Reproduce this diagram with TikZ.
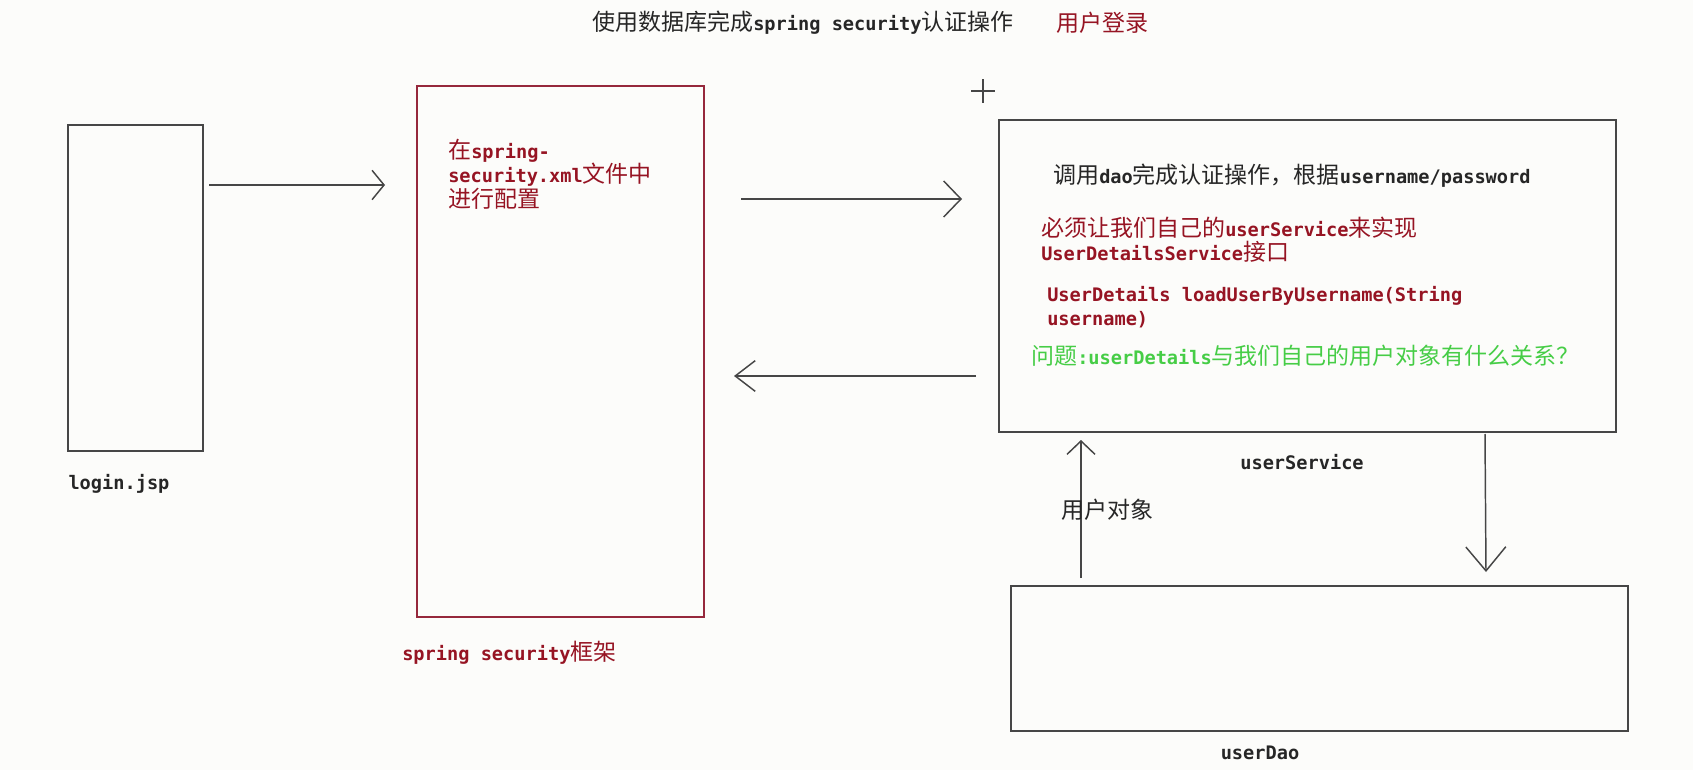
\documentclass[tikz,border=0pt]{standalone}
\usepackage{fontspec}
\setmainfont{Noto Sans CJK SC}
\newfontfamily\cjk{Noto Sans CJK SC}
\newfontfamily\mono{DejaVu Sans Mono}[Scale=0.81,UprightFont=* Bold]
\newcommand\mn[1]{{\mono #1}}
\usetikzlibrary{arrows.meta}
\definecolor{lineg}{RGB}{70,70,70}
\definecolor{dred}{RGB}{150,20,35}
\definecolor{bred}{RGB}{150,40,60}
\definecolor{qgreen}{RGB}{70,205,70}
\definecolor{bgc}{RGB}{252,252,250}
\begin{document}
\begin{tikzpicture}[x=0.75pt,y=-0.75pt,
  box/.style={draw=lineg, line width=1.2pt},
  rbox/.style={draw=bred, line width=1.2pt},
  txt/.style={inner sep=0pt, anchor=west, font=\cjk\fontsize{17.25}{20}\selectfont, text=black!85},
  lbl/.style={txt, anchor=center},
  rtxt/.style={txt, text=dred},
  gtxt/.style={txt, text=qgreen},
  arr/.style={draw=lineg, line width=1.1pt, -{Straight Barb[length=#1]}},
  arr/.default={10pt,width=24pt}
]
\fill[bgc] (0,0) rectangle (1693,770);
\useasboundingbox (0,0) rectangle (1693,770);

% title
\node[txt] (title) at (592,23) {使用数据库完成\mn{spring security}认证操作};
\node[rtxt] (title2) at (1056,23) {用户登录};

% boxes
\draw[box] (68,125) rectangle (203,451);
\coordinate (login) at (135,288);
\node[lbl] (loginl) at (119,484) {\mn{login.jsp}};

\draw[rbox] (417,86) rectangle (704,617);
\node[rtxt] (cfg1) at (448,151) {在\mn{spring-}};
\node[rtxt] (cfg2) at (448,175) {\mn{security.xml}文件中};
\node[rtxt] (cfg3) at (448,199) {进行配置};
\node[rtxt] (secl) at (402,653) {\mn{spring security}框架};

\draw[box] (999,120) rectangle (1616,432);
\node[txt] (s1) at (1053,176) {调用\mn{dao}完成认证操作，根据\mn{username/password}};
\node[rtxt] (s2) at (1041,228) {必须让我们自己的\mn{userService}来实现};
\node[rtxt] (s3) at (1041,252) {\mn{UserDetailsService}接口};
\node[rtxt] (s4) at (1047,296) {\mn{UserDetails loadUserByUsername(String}};
\node[rtxt] (s5) at (1047,320) {\mn{username)}};
\node[gtxt] (s6) at (1031,356) {问题\mn{:userDetails}与我们自己的用户对象有什么关系？};
\node[lbl] (servl) at (1302,462) {\mn{userService}};

\draw[box] (1011,586) rectangle (1628,731);
\node[lbl] (daol) at (1260,753) {\mn{userDao}};

% connectors
\coordinate (a1s) at (209,185);
\coordinate (a1e) at (385,185);
\coordinate (a2s) at (741,199);
\coordinate (a2e) at (962,199);
\coordinate (a3s) at (976,376);
\coordinate (a3e) at (734,376);
\coordinate (a4s) at (1485,434);
\coordinate (a4e) at (1486,572);
\coordinate (a5s) at (1081,578);
\coordinate (a5e) at (1081,440);
\draw[arr={9pt,width=22pt}] (a1s) -- (a1e);
\draw[arr={13pt,width=27pt}] (a2s) -- (a2e);
\draw[arr={15pt,width=23pt}] (a3s) -- (a3e);
\draw[arr={18pt,width=30pt}] (a4s) -- (a4e);
\draw[arr={10pt,width=21pt}] (a5s) -- (a5e);
\node[txt] (obj) at (1061,510) {用户对象};

% cursor
\coordinate (cur) at (983,91);
\draw[lineg, line width=1.2pt] ([xshift=-9pt]cur) -- ([xshift=9pt]cur) ([yshift=-9pt]cur) -- ([yshift=9pt]cur);
\end{tikzpicture}
\end{document}
